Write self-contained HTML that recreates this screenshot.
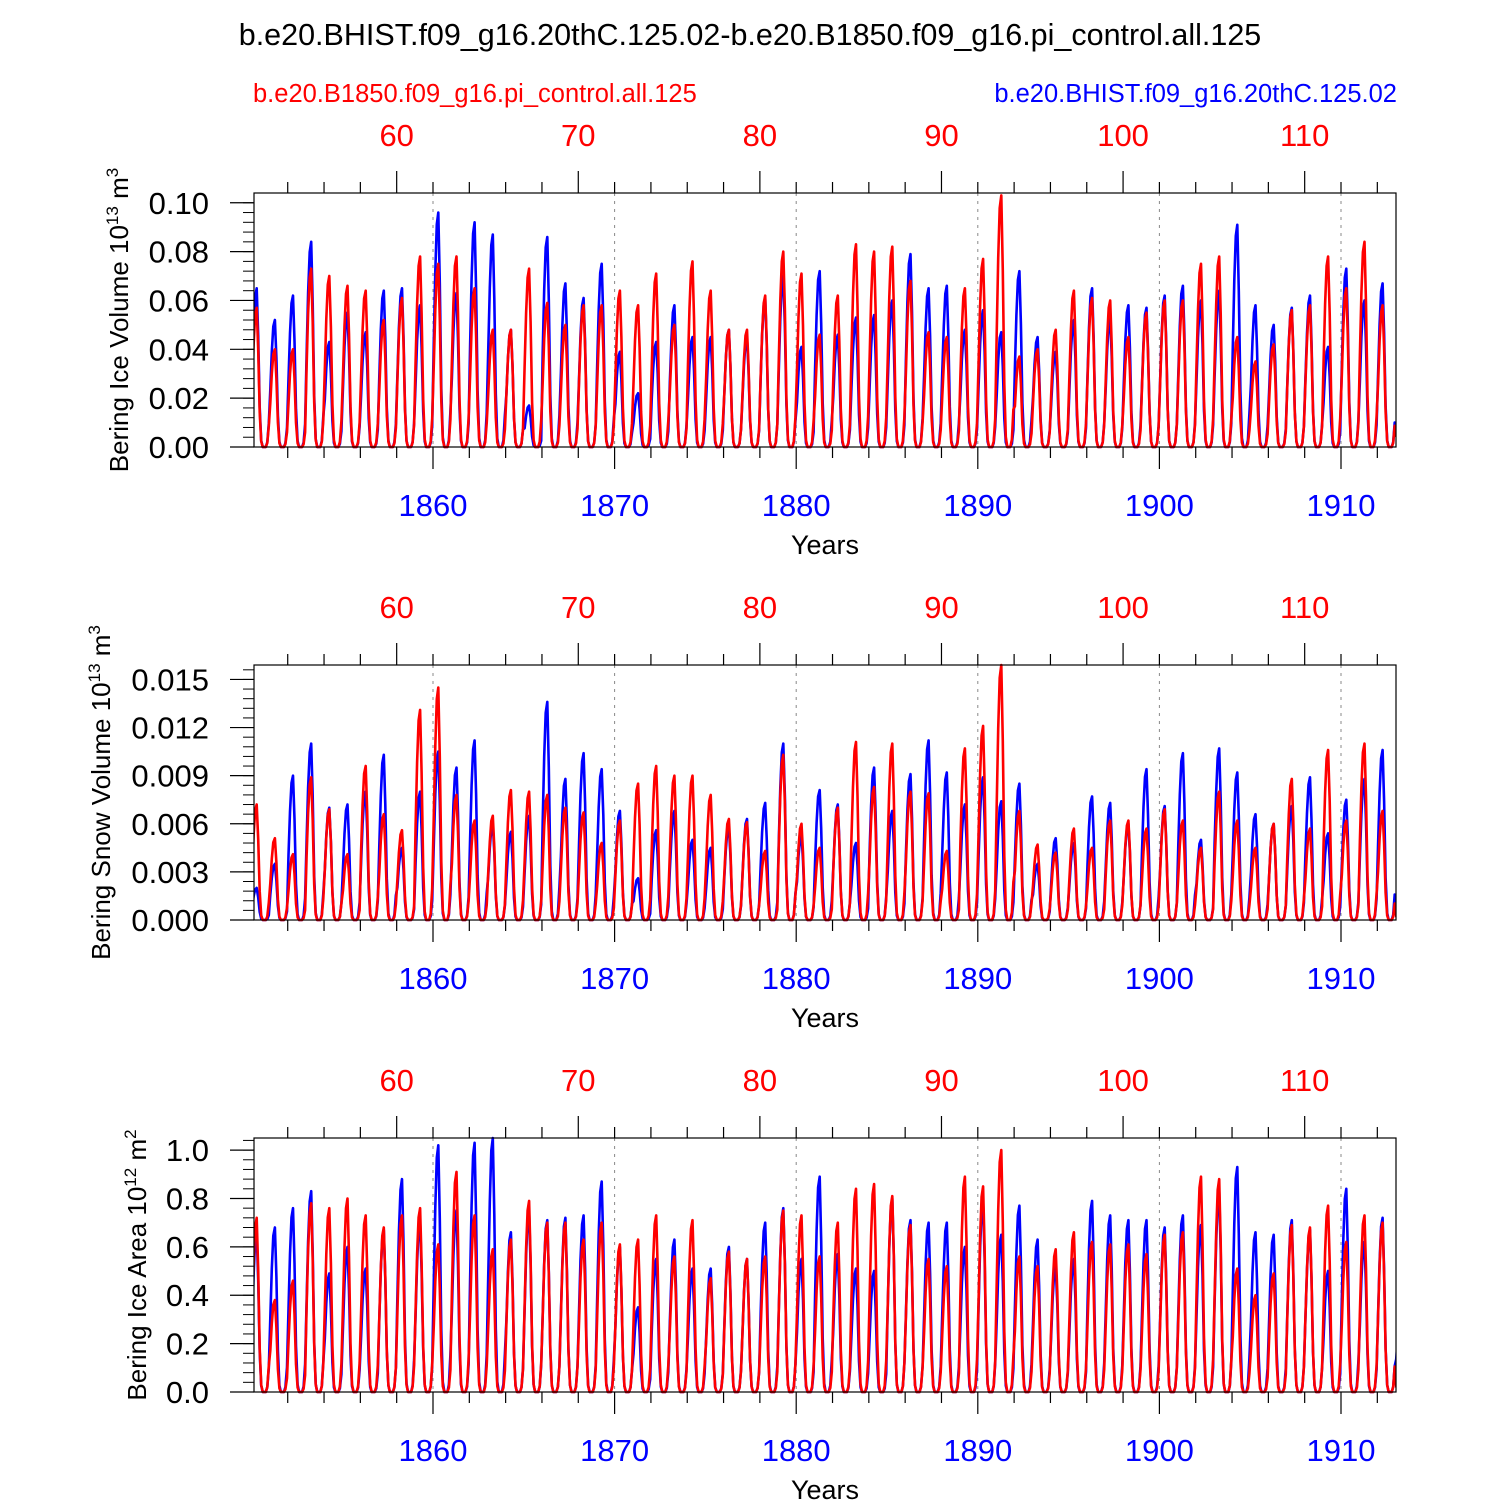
<!DOCTYPE html>
<html><head><meta charset="utf-8">
<style>
body{margin:0;background:#fff;}
svg{display:block;font-family:"Liberation Sans",sans-serif;}
</style></head>
<body>
<svg id="chart" width="1500" height="1500" viewBox="0 0 1500 1500">
<text x="750" y="45" text-anchor="middle" font-size="30.5">b.e20.BHIST.f09_g16.20thC.125.02-b.e20.B1850.f09_g16.pi_control.all.125</text>
<text x="253" y="102" font-size="25.5" fill="#ff0000">b.e20.B1850.f09_g16.pi_control.all.125</text>
<text x="1397" y="102" font-size="25.5" fill="#0000ff" text-anchor="end">b.e20.BHIST.f09_g16.20thC.125.02</text>
</svg>
<script>
const blueYears = [1860,1870,1880,1890,1900,1910];
const redYears = [60,70,80,90,100,110];
const seasonShape = [0.45,0.75,0.95,1.0,0.7,0.25,0.04,0,0,0,0.03,0.15];
const iceVolBlue = [0.065,0.052,0.062,0.084,0.043,0.055,0.047,0.064,0.065,0.058,0.096,0.063,0.092,0.087,0.048,0.017,0.086,0.067,0.061,0.075,0.039,0.022,0.043,0.058,0.045,0.045,0.048,0.045,0.061,0.070,0.041,0.072,0.046,0.053,0.054,0.060,0.079,0.065,0.066,0.048,0.056,0.047,0.072,0.045,0.039,0.052,0.065,0.053,0.058,0.057,0.062,0.066,0.060,0.064,0.091,0.058,0.050,0.057,0.062,0.041,0.073,0.060,0.067,0.014];
const iceVolRed = [0.057,0.040,0.040,0.073,0.070,0.066,0.064,0.052,0.061,0.078,0.075,0.078,0.065,0.048,0.048,0.073,0.059,0.050,0.058,0.058,0.064,0.058,0.071,0.050,0.076,0.064,0.048,0.048,0.062,0.080,0.071,0.046,0.062,0.083,0.080,0.082,0.068,0.047,0.045,0.065,0.077,0.103,0.037,0.040,0.048,0.064,0.061,0.060,0.045,0.055,0.060,0.060,0.075,0.078,0.045,0.035,0.042,0.056,0.058,0.078,0.065,0.084,0.058,0.010];
const snowBlue = [0.002,0.0035,0.009,0.011,0.007,0.0072,0.008,0.0103,0.0045,0.008,0.0105,0.0095,0.0112,0.006,0.0055,0.0065,0.0136,0.0088,0.0104,0.0094,0.0068,0.0026,0.0056,0.0068,0.005,0.0045,0.0058,0.0063,0.0073,0.011,0.0053,0.0081,0.0072,0.0048,0.0095,0.0068,0.0091,0.0112,0.0092,0.0072,0.0089,0.0074,0.0085,0.0035,0.0051,0.0048,0.0077,0.0073,0.006,0.0094,0.0071,0.0104,0.005,0.0107,0.0092,0.0066,0.006,0.0071,0.0089,0.0054,0.0075,0.0088,0.0106,0.001];
const snowRed = [0.0072,0.0051,0.0041,0.0089,0.0069,0.0041,0.0096,0.0066,0.0056,0.0131,0.0145,0.0078,0.0062,0.0065,0.0081,0.008,0.0078,0.007,0.0067,0.0048,0.0062,0.0085,0.0096,0.009,0.009,0.0078,0.0063,0.0061,0.0043,0.0103,0.006,0.0045,0.007,0.0111,0.0083,0.011,0.008,0.0079,0.0043,0.0107,0.0121,0.0159,0.0068,0.0047,0.0042,0.0057,0.0045,0.0062,0.0062,0.0057,0.0069,0.0062,0.0045,0.008,0.0062,0.0045,0.006,0.0088,0.0057,0.0106,0.0062,0.011,0.0068,0.0005];
const areaBlue = [0.66,0.68,0.76,0.83,0.49,0.6,0.51,0.67,0.88,0.71,1.02,0.75,1.03,1.05,0.66,0.75,0.71,0.72,0.73,0.87,0.6,0.35,0.55,0.63,0.51,0.51,0.6,0.55,0.7,0.76,0.55,0.89,0.57,0.51,0.5,0.8,0.71,0.7,0.7,0.6,0.79,0.65,0.77,0.63,0.52,0.55,0.79,0.73,0.71,0.71,0.68,0.73,0.69,0.83,0.93,0.66,0.65,0.71,0.67,0.5,0.84,0.62,0.72,0.3];
const areaRed = [0.72,0.38,0.46,0.78,0.76,0.8,0.73,0.68,0.73,0.76,0.61,0.91,0.73,0.59,0.63,0.79,0.7,0.7,0.63,0.7,0.61,0.63,0.73,0.56,0.71,0.47,0.58,0.55,0.56,0.75,0.73,0.56,0.7,0.84,0.86,0.81,0.69,0.55,0.52,0.89,0.85,1.0,0.56,0.52,0.59,0.66,0.62,0.61,0.61,0.57,0.65,0.66,0.89,0.88,0.51,0.4,0.49,0.69,0.68,0.77,0.62,0.73,0.7,0.05];
const ticks1 = ["0.00","0.02","0.04","0.06","0.08","0.10"];
const ticks2 = ["0.000","0.003","0.006","0.009","0.012","0.015"];
const ticks3 = ["0.0","0.2","0.4","0.6","0.8","1.0"];

const NS="http://www.w3.org/2000/svg";
const svg=document.getElementById('chart');
const X0=254,X1=1396;
function xScale(yr){return 433+(yr-1860)*18.16;}
function mk(tag,attrs,parent){const e=document.createElementNS(NS,tag);for(const k in attrs)e.setAttribute(k,attrs[k]);(parent||svg).appendChild(e);return e;}

const panels=[
 {top:193,bot:447,max:0.104,step:0.02,ticks:ticks1,blue:iceVolBlue,red:iceVolRed,title:"Bering Ice Volume 10",sup:"13",unit:" m",usup:"3",tx:128,name:"ice-volume"},
 {top:665,bot:920,max:0.0159,step:0.003,ticks:ticks2,blue:snowBlue,red:snowRed,title:"Bering Snow Volume 10",sup:"13",unit:" m",usup:"3",tx:110,name:"snow-volume"},
 {top:1138,bot:1392,max:1.05,step:0.2,ticks:ticks3,blue:areaBlue,red:areaRed,title:"Bering Ice Area 10",sup:"12",unit:" m",usup:"2",tx:146,name:"ice-area"}
];

panels.forEach((p,pi)=>{
 const g=mk('g',{});
 
 
 const yScale=v=>p.bot-(v/p.max)*(p.bot-p.top);
 const cid='clip'+pi;
 const cp=mk('clipPath',{id:cid},g);mk('rect',{x:X0,y:p.top-2,width:X1-X0,height:p.bot-p.top+4},cp);
 blueYears.forEach(yr=>{
  const l=mk('line',{x1:xScale(yr),x2:xScale(yr),y1:p.top,y2:p.bot,stroke:'#888','stroke-dasharray':'3,5','stroke-width':1},g);
  
  
 });
 [[p.blue,'#0000ff','blue-series'],[p.red,'#ff0000','red-series']].forEach(([arr,col,nm])=>{
  let d='';
  for(let i=0;i<arr.length;i++){
   for(let m=0;m<12;m++){
    const t=1850+i+(m+0.5)/12;
    if(i===arr.length-1 && m>1)break;
    const v=arr[i]*seasonShape[m];
    d+=(d?'L':'M')+xScale(t).toFixed(1)+','+yScale(v).toFixed(1);
   }
  }
  const path=mk('path',{d:d,fill:'none',stroke:col,'stroke-width':2.6,'stroke-linejoin':'round','clip-path':'url(#'+cid+')'},g);
  
  
 });
 mk('rect',{x:X0,y:p.top,width:X1-X0,height:p.bot-p.top,fill:'none',stroke:'#000','stroke-width':1.2},g);
 for(let k=0;k<p.ticks.length;k++){
  const v=k*p.step,y=yScale(v);
  mk('line',{x1:X0-24,x2:X0,y1:y,y2:y,stroke:'#000','stroke-width':1.2},g);
  const t=mk('text',{x:X0-45,y:y+11,'text-anchor':'end','font-size':31},g);t.textContent=p.ticks[k];
  
  
 }
 for(let v=0;v<=p.max;v+=p.step/5){const y=yScale(v);mk('line',{x1:X0-11,x2:X0,y1:y,y2:y,stroke:'#000','stroke-width':1},g);}
 for(let yr=1852;yr<=1912;yr+=2){const x=xScale(yr);mk('line',{x1:x,x2:x,y1:p.bot,y2:p.bot+(yr%10===0?22:11),stroke:'#000','stroke-width':1.2},g);}
 blueYears.forEach(yr=>{const t=mk('text',{x:xScale(yr),y:p.bot+69,'text-anchor':'middle','font-size':31,fill:'#0000ff'},g);t.textContent=yr;
  
  });
 const xt=mk('text',{x:825,y:p.bot+107,'text-anchor':'middle','font-size':27},g);xt.textContent='Years';
 
 
 for(let ry=54;ry<=114;ry+=2){const x=xScale(ry+1798);if(x<X0||x>X1)continue;mk('line',{x1:x,x2:x,y1:p.top,y2:p.top-(ry%10===0?22:11),stroke:'#000','stroke-width':1.2},g);}
 redYears.forEach(ry=>{const t=mk('text',{x:xScale(ry+1798),y:p.top-47,'text-anchor':'middle','font-size':31,fill:'#ff0000'},g);t.textContent=ry;
  
  });
 const cy=(p.top+p.bot)/2;
 const yt=mk('text',{x:p.tx,y:cy,transform:'rotate(-90 '+p.tx+' '+cy+')','text-anchor':'middle','font-size':26},g);
 
 
 yt.innerHTML=p.title+'<tspan dy="-10" font-size="17">'+p.sup+'</tspan><tspan dy="10">'+p.unit+'</tspan><tspan dy="-10" font-size="17">'+p.usup+'</tspan>';
});
</script>
</body></html>
